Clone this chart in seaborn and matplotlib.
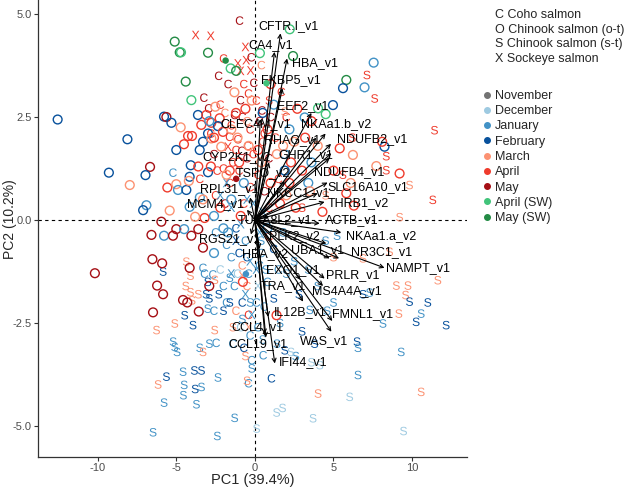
import numpy as np
import pandas as pd
import matplotlib
matplotlib.use("Agg")
import matplotlib.pyplot as plt
from matplotlib.lines import Line2D
import seaborn as sns

# ---- data (PC scores) ----
coho = [
    (-0.97, 4.84, "May"), (-1.99, 3.92, "Apr"), (-0.23, 3.95, "May"), (-0.06, 3.33, "May"),
    (-3.24, 2.97, "May"), (-0.91, 2.91, "May"), (-0.40, 3.07, "Apr"), (-2.94, 2.71, "May"),
    (-1.29, 2.55, "May"), (0.42, 3.76, "Mar"), (1.69, 3.11, "Apr"), (0.45, 2.66, "May"),
    (-1.61, 2.02, "Apr"), (-1.08, 1.96, "Apr"), (-0.83, 1.68, "May"), (-0.45, 1.80, "Apr"),
    (-2.4, 1.2, "Apr"), (-2.0, 1.25, "Apr"), (-5.21, 1.15, "Jan"), (0.6, 2.1, "Apr"),
    (0.3, 2.4, "May"), (-1.5, 2.3, "Apr"), (-0.8, 2.5, "May"), (-0.3, 2.2, "Apr"),
    (-1.2, 1.7, "Apr"), (-0.5, 1.5, "May"), (0.5, 1.9, "Apr"), (-1.0, 1.2, "Apr"),
    (0.2, 1.1, "Apr"), (-0.3, 0.8, "Apr"), (-1.6, 0.9, "Apr"), (0.9, 1.5, "May"),
    (1.3, 2.0, "Apr"), (-2.5, 0.6, "Apr"), (0.6, 0.7, "May"), (-0.7, 0.4, "Apr"),
    (1.5, 1.0, "Apr"), (-2.8, 2.1, "Apr"), (-1.9, 2.6, "Mar"),
    (-2.2, 2.8, "Apr"), (-1.7, 3.3, "May"), (-0.7, 3.3, "Apr"), (0.1, 2.9, "Apr"),
    (-2.6, 1.6, "May"), (-1.4, 1.4, "Apr"), (-0.1, 1.6, "Apr"), (1.0, 2.5, "May"),
    (-3.5, 1.0, "Apr"), (-1.9, 0.4, "May"), (0.9, 0.3, "Apr"), (-0.5, 2.4, "Mar"),
    (2.0, 2.5, "Apr"), (-2.3, 3.5, "May"),
    (-3.30, -1.16, "Jan"), (-3.2, -1.3, "Jan"), (-2.67, -1.32, "Jan"), (-2.46, -2.98, "Jan"),
    (-0.40, -3.96, "Jan"), (1.06, -3.84, "Feb"), (0.53, -3.28, "Jan"),
    (-1.8, -0.6, "Jan"), (-1.0, -0.8, "Feb"), (-0.4, -1.3, "Jan"), (0.4, -0.8, "Jan"),
    (-2.2, -1.2, "Dec"), (-1.3, -1.6, "Jan"), (-0.8, -2.0, "Feb"), (0.2, -2.6, "Jan"),
    (-0.3, -2.8, "Jan"), (-1.8, -2.0, "Jan"), (-0.9, -2.6, "Dec"), (0.8, -1.5, "Jan"),
    (1.2, -0.7, "Feb"), (-2.5, -0.3, "Jan"), (0.6, -2.1, "Jan"), (-0.2, -3.4, "Jan"),
    (-1.2, -0.2, "Feb"), (-0.6, -0.5, "Jan"),
    (-1.5, -0.9, "Jan"), (-2.0, -1.6, "Jan"), (-1.1, -1.3, "Dec"), (-0.5, -0.9, "Feb"),
    (0.1, -2.0, "Jan"), (-1.4, -3.0, "Jan"), (-0.7, -3.1, "Feb"), (0.3, -1.1, "Jan"),
    (-2.6, -2.2, "Jan"), (1.5, -1.2, "Jan"),
    (-0.5, -1.6, "Mar"), (-1.2, -2.2, "Mar"), (0.9, -0.4, "Apr"), (-0.8, -1.1, "Mar"), (-0.4, -2.3, "Apr"),
]

chinook_ot = [
    (-5.10, 4.33, "MaySW"), (-4.78, 4.07, "MaySW"), (-4.70, 4.07, "AprSW"), (-2.98, 4.06, "MaySW"),
    (-1.54, 3.68, "AprSW"), (-1.19, 3.62, "MaySW"), (-4.40, 3.36, "MaySW"), (-4.04, 2.91, "AprSW"),
    (2.22, 4.63, "AprSW"), (0.32, 4.05, "AprSW"), (2.43, 3.98, "MaySW"), (7.56, 3.82, "Jan"),
    (5.82, 3.40, "MaySW"), (5.61, 3.20, "Feb"), (6.98, 3.22, "Jan"), (4.97, 2.79, "Feb"),
    (4.02, 2.71, "AprSW"), (4.51, 2.57, "AprSW"), (3.17, 2.49, "Jan"), (3.6, 2.4, "Apr"),
    (-2.52, 2.75, "Mar"), (-12.55, 2.44, "Feb"), (-5.78, 2.51, "Feb"), (-5.63, 2.50, "May"),
    (-5.31, 2.36, "Feb"), (-3.62, 2.55, "Feb"), (-3.09, 2.55, "Apr"), (-3.41, 2.31, "Apr"),
    (-2.77, 2.36, "Apr"), (-2.24, 2.47, "Apr"), (-2.35, 2.28, "Feb"), (-4.72, 2.25, "Mar"),
    (-8.11, 1.96, "Feb"), (-2.98, 2.10, "Feb"), (-4.25, 2.04, "Apr"), (-4.0, 2.04, "Apr"),
    (-4.51, 1.84, "Apr"), (-3.30, 1.90, "Feb"), (-2.77, 1.98, "Mar"), (-5.0, 1.70, "Feb"),
    (-3.51, 1.70, "Feb"), (-2.03, 2.14, "Apr"), (-1.5, 2.2, "Mar"), (-2.14, 1.78, "Mar"),
    (-6.67, 1.29, "May"), (-6.96, 1.09, "Feb"), (-9.29, 1.15, "Feb"), (-7.96, 0.85, "Mar"),
    (-4.08, 1.33, "Feb"), (-4.15, 1.05, "Feb"), (-2.98, 1.16, "Feb"), (-1.6, 1.2, "Apr"),
    (-3.6, 1.3, "Apr"), (-1.0, 1.4, "Apr"), (-5.57, 0.79, "Apr"), (-5.0, 0.87, "Mar"),
    (-4.89, 0.73, "Jan"), (-4.36, 0.73, "Feb"), (-4.2, 0.95, "Mar"), (-6.90, 0.36, "Jan"),
    (-7.11, 0.24, "Feb"), (-5.42, 0.23, "Mar"), (-4.15, 0.32, "Jan"), (-3.5, 0.55, "Jan"),
    (-5.95, -0.04, "May"), (-3.2, 0.05, "Apr"), (-2.6, 0.1, "Jan"), (-5.0, -0.22, "May"),
    (-6.58, -0.36, "May"), (-5.78, -0.38, "Jan"), (-5.21, -0.38, "May"), (-4.04, -0.38, "May"),
    (-4.5, -0.22, "Jan"), (-3.6, -0.22, "May"), (-3.8, 0.08, "Mar"), (-3.30, -0.67, "May"),
    (-10.18, -1.29, "May"), (-6.52, -0.95, "May"), (-5.90, -1.05, "May"), (-4.15, -1.16, "May"),
    (-6.22, -1.59, "May"), (-5.84, -1.80, "May"), (-4.57, -1.94, "May"), (-4.3, -2.0, "May"),
    (-3.57, -2.22, "May"), (-6.48, -2.24, "May"), (-2.9, -1.6, "May"), (-2.6, -0.8, "Jan"),
    (-0.76, -1.5, "Apr"), (1.38, -2.31, "Apr"),
    (5.40, 1.74, "Apr"), (6.24, 1.58, "Mar"), (8.25, 1.78, "Feb"), (8.1, 1.9, "Apr"),
    (7.73, 1.31, "Mar"), (9.21, 1.13, "Apr"), (5.82, 0.65, "Apr"), (6.1, 0.9, "Mar"),
    (6.3, 0.35, "Apr"), (2.6, 0.3, "Apr"), (1.9, 1.6, "Jan"), (3.4, 0.9, "Jan"),
    (-2.6, 2.0, "Apr"), (-1.1, 2.0, "Mar"), (-0.4, 1.8, "Mar"), (0.8, 2.2, "Apr"),
    (1.8, 1.8, "Mar"), (2.3, 1.4, "Apr"), (-1.8, 1.1, "Mar"), (-2.8, 1.3, "Apr"),
    (0.4, 1.4, "Mar"), (1.0, 0.9, "Apr"), (2.0, 0.6, "Mar"), (3.0, 1.2, "Apr"),
    (3.5, 0.7, "Mar"), (1.6, 0.4, "Apr"), (-3.3, 0.5, "Mar"), (-2.2, 0.3, "Apr"),
    (4.0, 1.8, "Mar"), (3.2, 2.0, "Apr"), (4.3, 0.2, "Apr"), (-2.9, 2.4, "Jan"),
    (0.5, 2.6, "Feb"), (2.2, 2.2, "Jan"), (-0.7, 0.9, "Jan"), (1.9, 1.2, "Feb"),
    (-1.5, 0.5, "Jan"), (3.6, 1.4, "Jan"), (-1.3, 3.1, "Mar"), (-0.6, 2.7, "Apr"),
    (1.2, 2.8, "Jan"), (2.7, 2.7, "Apr"), (2.5, 1.9, "Mar"), (5.0, 1.2, "Apr"),
    (-1.2, 2.6, "Apr"), (-0.2, 2.9, "Mar"), (0.2, 1.7, "Apr"), (1.4, 1.6, "Mar"),
    (-0.9, 0.1, "Apr"), (-2.0, -0.2, "Jan"), (0.8, -0.2, "Jan"), (-1.7, -0.3, "Jan"),
    (2.2, 0.9, "Apr"), (1.0, 3.3, "Apr"),
]

chinook_st = [
    (7.13, 3.52, "Apr"), (7.62, 2.95, "Apr"), (1.90, 2.63, "Mar"), (11.43, 2.18, "Apr"),
    (8.36, 1.55, "Apr"), (8.36, 1.21, "Apr"), (9.84, 0.85, "Mar"), (11.32, 0.49, "Apr"),
    (9.21, 0.07, "Mar"), (0.9, 2.9, "Apr"), (6.2, 2.0, "Apr"), (5.6, 1.1, "Apr"),
    (5.23, -0.38, "Jan"), (6.88, -0.93, "Mar"), (8.57, -0.77, "Mar"), (11.64, -1.46, "Mar"),
    (9.0, -1.59, "Mar"), (9.74, -1.59, "Mar"), (9.59, -1.82, "Mar"), (9.84, -1.98, "Feb"),
    (11.0, -2.0, "Feb"), (9.16, -2.27, "Mar"), (10.58, -2.27, "Jan"), (10.26, -2.47, "Feb"),
    (12.17, -2.55, "Feb"), (8.15, -2.51, "Jan"), (7.30, -1.76, "Jan"), (6.88, -1.80, "Feb"),
    (6.50, -2.95, "Feb"), (6.56, -3.10, "Jan"), (9.31, -3.20, "Jan"), (6.56, -3.76, "Jan"),
    (4.02, -4.21, "Mar"), (6.03, -4.29, "Dec"), (10.58, -4.17, "Mar"), (1.76, -4.56, "Dec"),
    (1.38, -4.67, "Dec"), (3.70, -4.81, "Dec"), (9.46, -5.12, "Dec"), (0.11, -5.06, "Dec"),
    (4.13, -3.52, "Dec"), (3.6, -3.45, "Dec"), (1.90, -3.16, "Feb"), (2.6, -3.3, "Jan"),
    (3.49, -2.18, "Jan"), (5.0, -2.0, "Jan"), (4.5, -0.5, "Jan"),
    (-5.84, -1.25, "Feb"), (-4.36, -1.01, "Mar"), (-4.1, -1.35, "Mar"), (-4.4, -1.6, "Mar"),
    (-4.1, -1.75, "Mar"), (-3.6, -1.8, "Mar"), (-2.55, -1.45, "Mar"), (-3.0, -1.5, "Feb"),
    (-3.1, -1.8, "Feb"), (-4.47, -2.31, "Feb"), (-4.0, -1.95, "Mar"), (-3.94, -2.55, "Feb"),
    (-5.10, -2.51, "Mar"), (-6.26, -2.67, "Mar"), (-3.0, -2.15, "Jan"), (-2.9, -1.9, "Feb"),
    (-2.3, -1.8, "Feb"), (-2.0, -2.2, "Feb"), (-1.6, -2.0, "Feb"), (-2.56, -2.67, "Mar"),
    (-5.10, -3.08, "Jan"), (-5.2, -2.95, "Jan"), (-4.95, -3.2, "Jan"), (-3.51, -3.10, "Jan"),
    (-3.3, -3.2, "Mar"), (-2.9, -3.0, "Jan"), (-5.63, -3.80, "Feb"), (-4.57, -3.68, "Jan"),
    (-3.85, -3.65, "Feb"), (-3.4, -3.65, "Feb"), (-2.35, -3.82, "Jan"), (-6.16, -3.99, "Mar"),
    (-4.5, -4.0, "Jan"), (-4.55, -4.25, "Jan"), (-3.8, -4.1, "Feb"), (-3.4, -4.05, "Jan"),
    (-5.78, -4.43, "Jan"), (-3.72, -4.47, "Jan"), (-1.29, -4.80, "Jan"), (-6.48, -5.15, "Jan"),
    (-2.39, -5.24, "Jan"),
    (-1.6, -1.4, "Jan"), (-0.8, -2.4, "Jan"), (0.7, -1.2, "Jan"), (1.2, -1.9, "Feb"),
    (2.0, -1.3, "Jan"), (1.6, -2.5, "Jan"), (2.8, -1.8, "Feb"), (2.5, -1.0, "Jan"),
    (3.4, -1.2, "Jan"), (3.0, -2.7, "Feb"), (4.0, -1.6, "Jan"), (4.6, -2.2, "Jan"),
    (1.4, -3.0, "Jan"), (2.3, -3.2, "Dec"), (3.8, -3.0, "Feb"), (-0.3, -2.0, "Jan"),
    (0.5, -2.9, "Jan"), (-1.4, -2.6, "Mar"), (-0.6, -3.3, "Mar"), (0.4, -0.5, "Jan"),
    (1.8, -0.3, "Jan"), (5.0, -0.9, "Mar"), (4.5, 0.6, "Mar"), (3.0, 0.3, "Apr"),
    (-0.5, -3.9, "Mar"), (-0.2, -3.6, "Jan"),
]

sockeye = [
    (-3.77, 4.49, "Apr"), (-2.81, 4.47, "Apr"), (-1.08, 3.80, "Apr"), (-0.55, 3.88, "Apr"),
    (-0.91, 3.62, "Apr"), (-0.27, 3.63, "Apr"), (-1.71, 1.78, "Apr"), (-0.6, 4.2, "Apr"),
    (-1.5, 0.3, "Jan"), (-0.9, -0.1, "Jan"), (-0.5, 0.5, "Jan"), (0.3, -0.3, "Jan"),
    (-1.2, -0.5, "Feb"), (-0.3, -1.0, "Jan"), (0.2, -1.6, "Dec"), (-0.6, -1.8, "Jan"),
    (-0.2, -2.3, "Jan"), (-1.5, -1.3, "Jan"), (0.5, 0.2, "Jan"), (-0.1, 0.4, "Jan"),
    (-2.2, 0.6, "Jan"), (-1.8, 0.9, "Jan"), (-0.8, -1.35, "Mar"), (-0.4, -2.6, "Mar"),
    (0.1, -1.2, "Jan"),
]

filled_pts = [(-1.86, 3.87, "MaySW"), (0.74, 3.32, "AprSW"), (-1.19, 1.0, "May"), (-0.57, -1.31, "Jan")]

# gene loadings: name, arrow tip (PC1, PC2)
genes = ["CFTR.I_v1", "CA4_v1", "HBA_v1", "FKBP5_v1", "EEF2_v1", "CLEC4M_v1", "NKAa1.b_v2",
         "RHAG_v1", "NDUFB2_v1", "GHR1_v1", "CYP2K1_v2", "TSPO_v2", "NDUFB4_v1", "SLC16A10_v1",
         "NKCC1_v1", "THRB1_v2", "TUBA8L2_v1", "ACTB_v1", "NKAa1.a_v2", "PLK2_v2", "RGS21_v1",
         "UBA1_v1", "NR3C1_v1", "NAMPT_v1", "HBA_v2", "PRLR_v1", "EXO1_v1", "MS4A4A_v1",
         "TRA_v1", "IL12B_v1", "FMNL1_v1", "WAS_v1", "CCL4_v1", "CCL19_v1", "IFI44_v1",
         "MCM4_v1", "RPL31_v1"]
load_pc1 = [1.63, 1.25, 2.05, 1.75, 3.6, 0.35, 4.5, 3.9, 4.85, 4.87, 0.9, 1.9, 4.76, 4.63,
            4.0, 4.44, 0.9, 4.13, 5.5, 4.55, -0.25, 4.76, 5.36, 8.25, 0.3, 4.44, 2.9, 4.34,
            3.07, 0.85, 4.93, 4.87, 0.63, 0.7, 1.27, -0.5, -0.3]
load_pc2 = [4.53, 4.08, 3.92, 3.2, 2.6, 2.45, 2.1, 2.0, 1.85, 1.62, 1.4, 0.95, 1.5, 0.91,
            0.65, 0.44, 0.08, -0.08, -0.3, -0.57, -0.35, -0.93, -0.93, -1.16, -0.7, -1.42, -1.45, -1.6,
            -1.98, -2.35, -2.45, -2.71, -2.77, -2.85, -3.48, 0.25, 0.55]
# where each label sits (repelled text position)
label_pos = [(2.16, 4.71), (1.02, 4.25), (3.81, 3.82), (2.29, 3.40), (3.05, 2.77), (0.06, 2.33),
             (5.14, 2.33), (2.38, 1.94), (7.49, 1.97), (3.24, 1.58), (-1.2, 1.54), (0.5, 1.14),
             (6.03, 1.17), (7.17, 0.79), (2.73, 0.65), (6.60, 0.40), (1.27, 0.0), (6.17, 0.0),
             (8.05, -0.40), (2.54, -0.38), (-1.6, -0.46), (3.97, -0.73), (8.04, -0.77),
             (10.36, -1.17), (0.63, -0.83), (6.24, -1.33), (2.43, -1.21), (5.86, -1.72),
             (1.79, -1.59), (2.92, -2.24), (6.86, -2.29), (4.38, -2.94), (0.19, -2.60),
             (0.19, -3.01), (3.05, -3.44), (-2.48, 0.39), (-1.65, 0.75)]

month_codes = ["Nov", "Dec", "Jan", "Feb", "Mar", "Apr", "May", "AprSW", "MaySW"]
month_labels = ["November", "December", "January", "February", "March", "April", "May",
                "April (SW)", "May (SW)"]
month_colors = ["#737373", "#9ecae1", "#4292c6", "#08519c", "#fc9272", "#ef3b2c", "#a50f15",
                "#41c47a", "#238b45"]
species_labels = ["C Coho salmon", "O Chinook salmon (o-t)", "S Chinook salmon (s-t)", "X Sockeye salmon"]

palette = dict(zip(month_codes, month_colors))

# ---- style ----
sns.set_style("ticks")
plt.rcParams["font.family"] = ["Liberation Sans", "DejaVu Sans"]
plt.rcParams["mathtext.fontset"] = "custom"
plt.rcParams["mathtext.rm"] = "Liberation Sans"
plt.rcParams["axes.unicode_minus"] = False

fig = plt.figure(figsize=(6.25, 4.88), dpi=100)
ax = fig.add_axes([0.0608, 0.0635, 0.6864, 0.9365])

ax.axhline(0, color="black", ls=(0, (3, 3)), lw=0.8, zorder=1)
ax.axvline(0, color="black", ls=(0, (3, 3)), lw=0.8, zorder=1)

def to_df(rows):
    return pd.DataFrame(rows, columns=["PC1", "PC2", "month"])

for rows, letter in [(coho, "C"), (chinook_st, "S"), (sockeye, "X")]:
    sns.scatterplot(data=to_df(rows), x="PC1", y="PC2", hue="month", palette=palette,
                    marker=r"$\mathrm{%s}$" % letter, s=38, linewidth=0, legend=False,
                    ax=ax, zorder=2)

sns.scatterplot(data=to_df(chinook_ot), x="PC1", y="PC2", hue="month", palette=palette,
                marker="o", s=40, legend=False, ax=ax, zorder=2)
coll = ax.collections[-1]
fc = coll.get_facecolors()
coll.set_edgecolors(fc)
coll.set_facecolors("none")
coll.set_linewidths(1.0)

sns.scatterplot(data=to_df(filled_pts), x="PC1", y="PC2", hue="month", palette=palette,
                marker="o", s=22, linewidth=0, legend=False, ax=ax, zorder=2)

# loading arrows
for g, x, y, (lx, ly) in zip(genes, load_pc1, load_pc2, label_pos):
    ax.annotate("", xy=(x, y), xytext=(0, 0),
                arrowprops=dict(arrowstyle="->", color="black", lw=0.8,
                                mutation_scale=7, shrinkA=0, shrinkB=0), zorder=3)
    ax.text(lx, ly, g, ha="center", va="center", fontsize=9, color="black", zorder=4)

ax.set_xlim(-13.8, 13.5)
ax.set_ylim(-5.75, 5.34)
ax.set_xticks([-10, -5, 0, 5, 10])
ax.set_yticks([-5, -2.5, 0, 2.5, 5])
ax.set_yticklabels(["-5.0", "-2.5", "0.0", "2.5", "5.0"])
ax.tick_params(labelsize=8, labelcolor="#4d4d4d", length=3, width=0.8, color="#333333", pad=1.5)
ax.set_xlabel("PC1 (39.4%)", fontsize=10.5, labelpad=0)
ax.set_ylabel("PC2 (10.2%)", fontsize=10)
ax.yaxis.set_label_coords(-0.048, 0.52)
sns.despine(ax=ax)
for sp in ["left", "bottom"]:
    ax.spines[sp].set_linewidth(0.9)
    ax.spines[sp].set_color("#333333")

# species key (text only)
for i, lab in enumerate(species_labels):
    fig.text(0.792, 1 - (15 + 14.7 * i) / 488, lab, fontsize=9, va="center", ha="left")

# month key
handles = [Line2D([], [], marker="o", ls="", color=c, markersize=4) for c in month_colors]
fig.legend(handles, month_labels, loc="upper left", bbox_to_anchor=(0.773, 1 - 90 / 488),
           frameon=False, fontsize=9, handlelength=0.6, handletextpad=0.35,
           labelspacing=0.26, borderpad=0, borderaxespad=0)

fig.savefig("out.png", dpi=100)
